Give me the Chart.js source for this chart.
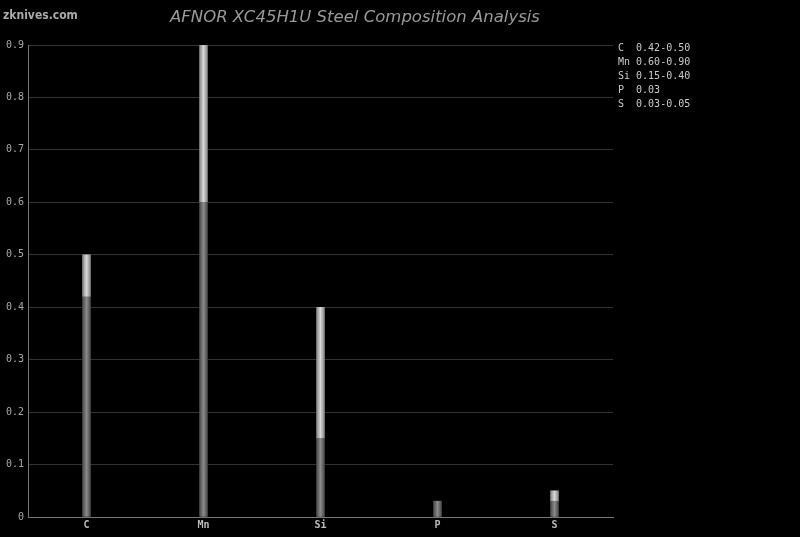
<!DOCTYPE html>
<html>
<head>
<meta charset="utf-8">
<script src="https://cdn.jsdelivr.net/npm/chart.js@4/dist/chart.umd.min.js"></script>
<style>
  html, body { margin: 0; padding: 0; background: #000; }
  #wrap { width: 800px; height: 537px; position: relative; }
</style>
</head>
<body>
<div id="wrap"><canvas id="chart"></canvas></div>
<script>
// elements and min / max content (%)
const elements = ['C', 'Mn', 'Si', 'P', 'S'];
const minVals = [0.42, 0.60, 0.15, 0.03, 0.03];
const maxVals = [0.50, 0.90, 0.40, 0.03, 0.05];
const rangeLabels = ['0.42-0.50', '0.60-0.90', '0.15-0.40', '0.03', '0.03-0.05'];
const yTicks = [0, 0.1, 0.2, 0.3, 0.4, 0.5, 0.6, 0.7, 0.8, 0.9];

const rangeVals = maxVals.map((v, i) => +(v - minVals[i]).toFixed(3));

// horizontal gradient across each bar, cylinder look
function barShade(edge, mid) {
    return (ctx) => {
        const chart = ctx.chart;
        const x = chart.scales.x;
        if (!x || ctx.dataIndex === undefined) return mid;
        const cx = x.getPixelForValue(ctx.dataIndex);
        if (!isFinite(cx)) return mid;
        const g = chart.ctx.createLinearGradient(cx - 4, 0, cx + 4, 0);
        g.addColorStop(0, edge);
        g.addColorStop(0.5, mid);
        g.addColorStop(1, edge);
        return g;
    };
}

const textPlugin = {
    id: 'texts',
    afterDraw(chart) {
        const c = chart.ctx;
        c.save();
        // watermark
        c.fillStyle = '#aaa';
        c.font = 'bold 12px "DejaVu Sans Condensed", "DejaVu Sans"';
        c.textAlign = 'left';
        c.textBaseline = 'middle';
        c.fillText('zknives.com', 3, 16);
        // title
        c.fillStyle = '#999';
        c.font = 'italic 16.5px "DejaVu Sans"';
        c.textAlign = 'center';
        c.fillText('AFNOR XC45H1U Steel Composition Analysis', 355, 18);
        // element ranges
        c.fillStyle = '#ccc';
        c.font = '10px "DejaVu Sans Mono"';
        c.textAlign = 'left';
        elements.forEach((el, i) => {
            c.fillText(el.padEnd(2, ' ') + ' ' + rangeLabels[i], 618, 48 + i * 14);
        });
        c.restore();
    }
};

new Chart(document.getElementById('chart'), {
    type: 'bar',
    data: {
        labels: elements,
        datasets: [{
            label: 'min',
            data: minVals,
            backgroundColor: barShade('#4a4a4a', '#8a8a8a'),
            barThickness: 8,
            borderWidth: 0
        }, {
            label: 'range',
            data: rangeVals,
            backgroundColor: barShade('#858585', '#d8d8d8'),
            barThickness: 8,
            borderWidth: 0
        }]
    },
    options: {
        responsive: true,
        maintainAspectRatio: false,
        animation: false,
        layout: { padding: { top: 45, right: 187, left: 0, bottom: 0 } },
        plugins: {
            legend: { display: false },
            tooltip: { enabled: false }
        },
        scales: {
            x: {
                stacked: true,
                grid: { display: false, drawTicks: false },
                border: { color: '#777', width: 1 },
                ticks: { color: '#bbb', font: { family: 'DejaVu Sans Mono', size: 10, weight: 'bold' }, padding: 2 },
                afterFit: (s) => { s.height = 20; }
            },
            y: {
                stacked: true,
                min: 0,
                max: 0.9,
                afterBuildTicks: (s) => { s.ticks = yTicks.map(v => ({ value: v })); },
                grid: { color: '#333', drawTicks: false },
                border: { color: '#777', width: 1 },
                ticks: {
                    color: '#aaa',
                    font: { family: 'DejaVu Sans Mono', size: 10 },
                    padding: 4,
                    callback: (v) => String(+v.toFixed(1))
                },
                afterFit: (s) => { s.width = 28; }
            }
        }
    },
    plugins: [textPlugin]
});
</script>
</body>
</html>
